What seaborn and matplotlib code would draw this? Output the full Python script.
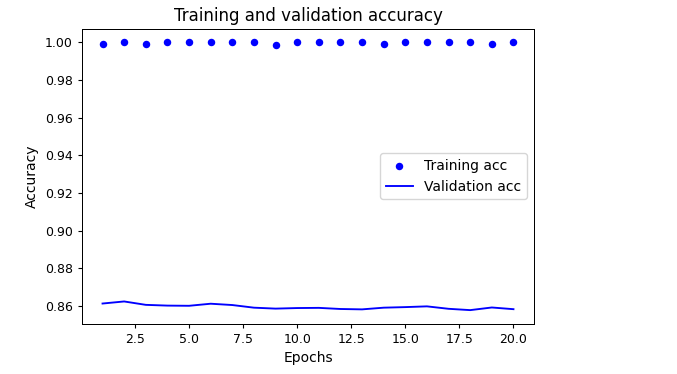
import matplotlib
matplotlib.use("Agg")
import matplotlib.pyplot as plt
import seaborn as sns

# Values
epochs = list(range(1, 21))
train_acc = [0.9991, 1.0, 0.9991, 1.0, 1.0, 1.0, 1.0, 1.0, 0.9984, 1.0,
             1.0, 1.0, 1.0, 0.9991, 1.0, 1.0, 1.0, 1.0, 0.9990, 1.0]
val_acc = [0.8613, 0.8624, 0.8606, 0.8602, 0.8601, 0.8612, 0.8605, 0.8591, 0.8586, 0.8589,
           0.8590, 0.8584, 0.8582, 0.8591, 0.8594, 0.8598, 0.8585, 0.8578, 0.8592, 0.8583]

plt.rcParams["font.family"] = "DejaVu Sans"
plt.rcParams["xtick.major.size"] = 3.15
plt.rcParams["ytick.major.size"] = 3.15
plt.rcParams["axes.linewidth"] = 0.72

fig = plt.figure(figsize=(6.77, 3.74), dpi=100)
ax = fig.add_axes([0.1211, 0.135, 0.6677, 0.7875])

sns.scatterplot(x=epochs, y=train_acc, color="blue", s=29, linewidth=0,
                label="Training acc", ax=ax)
sns.lineplot(x=epochs, y=val_acc, color="blue", linewidth=1.35,
             label="Validation acc", ax=ax)

ax.set_title("Training and validation accuracy", fontsize=12)
ax.set_xlabel("Epochs", fontsize=10)
ax.set_ylabel("Accuracy", fontsize=10)
ax.tick_params(labelsize=9)
ax.legend(loc="center right", fontsize=10)

fig.savefig("out.png", dpi=100)
